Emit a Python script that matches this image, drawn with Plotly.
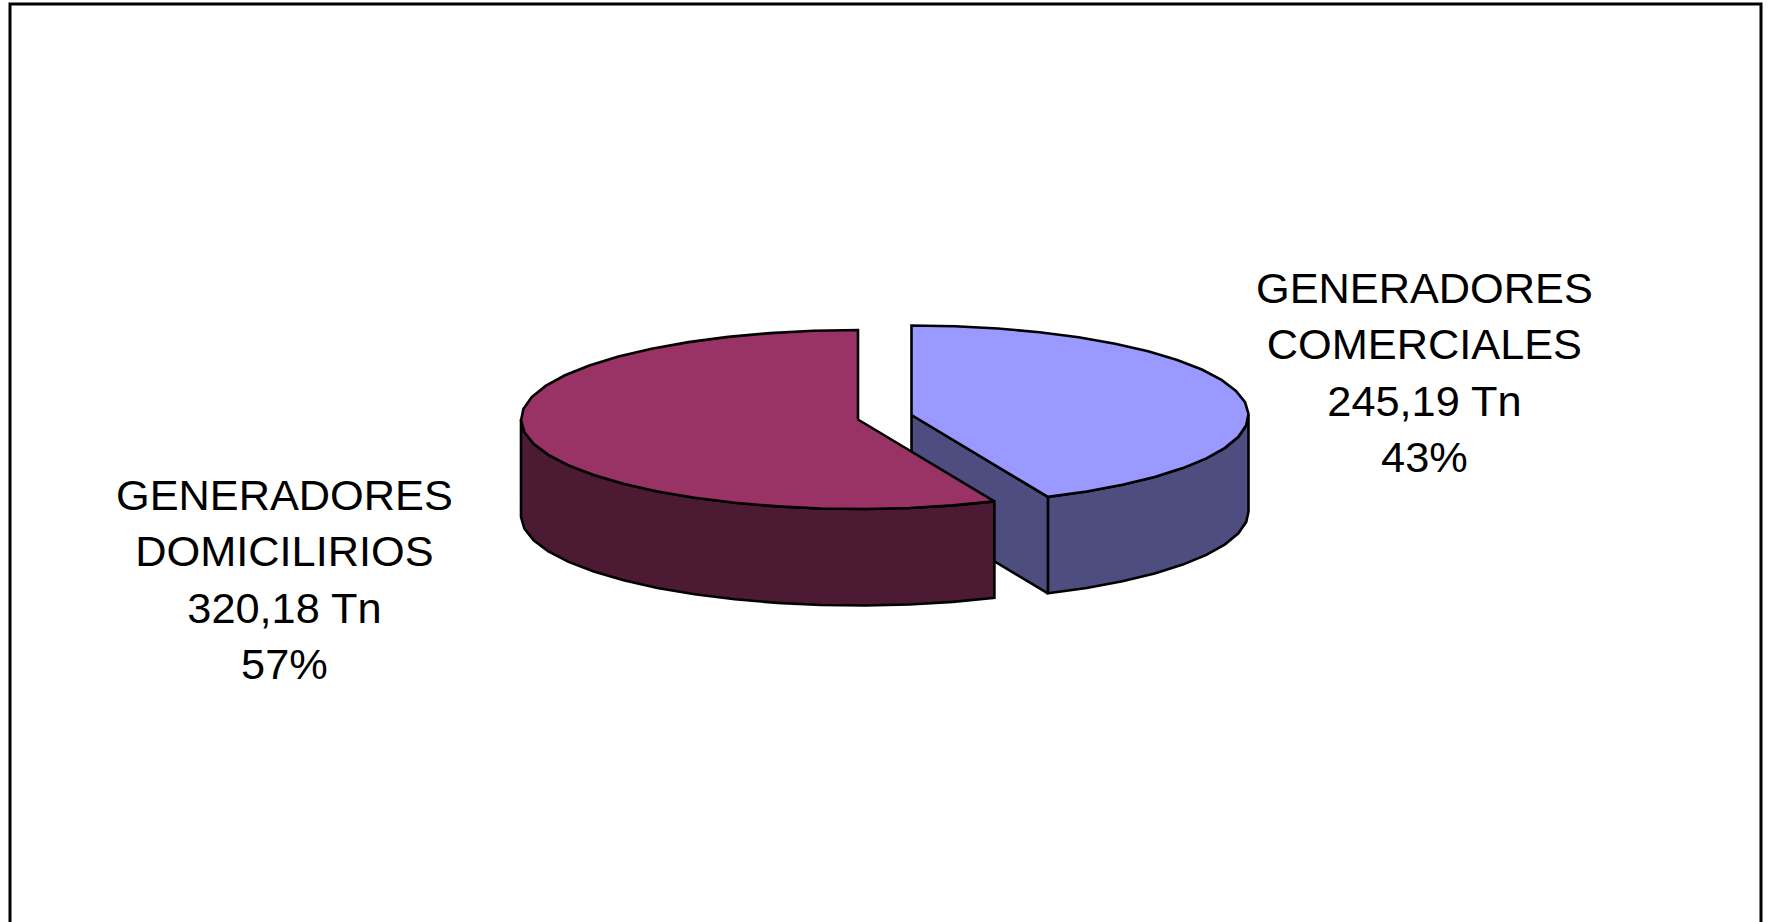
import numpy as np
import plotly.graph_objects as go

# Data
line_1 = ["GENERADORES", "GENERADORES"]
line_2 = ["COMERCIALES", "DOMICILIRIOS"]
tons = [245.19, 320.18]
tons_text = ["245,19 Tn", "320,18 Tn"]
top_colors = ["#9999FF", "#993366"]
side_colors = ["#4D4D80", "#4D1A33"]

# Layout of the 3D pie (pixel-like data space)
centers = [(911.5, 415.0), (858.0, 419.5)]
directions = [1, -1]  # clockwise / counter-clockwise from 12 o'clock
label_pos = [(1424, 372), (284, 579)]
RX, RY, DEPTH = 337.0, 89.5, 96.5
STEP = 7.5

total = sum(tons)
fig = go.Figure()


def add_poly(xs, ys, color):
    fig.add_trace(go.Scatter(
        x=xs, y=ys, mode="lines", fill="toself", fillcolor=color,
        line=dict(color="black", width=2.6), hoverinfo="skip", showlegend=False))


for value, (cx, cy), d, top, side in zip(tons, centers, directions, top_colors, side_colors):
    sweep = 360 * value / total
    n = max(2, int(round(sweep / STEP)) + 1)
    deg = np.linspace(0, sweep, n)
    th = np.radians(deg)
    ax = cx + d * RX * np.sin(th)
    ay = cy - RY * np.cos(th)
    # outer wall: the part of the rim on the front half
    front = deg >= 90
    wx = np.r_[cx + d * RX, ax[front]]
    wy = np.r_[cy, ay[front]]
    add_poly(np.r_[wx, wx[::-1], wx[0]], np.r_[wy, wy[::-1] + DEPTH, wy[0]], side)
    # radial wall, visible only for the clockwise slice
    if d > 0:
        add_poly([cx, ax[-1], ax[-1], cx, cx],
                 [cy, ay[-1], ay[-1] + DEPTH, cy + DEPTH, cy], side)
    # top face
    add_poly(np.r_[cx, ax, cx], np.r_[cy, ay, cy], top)

annotations = []
for a, b, t, v, (lx, ly) in zip(line_1, line_2, tons_text, tons, label_pos):
    annotations.append(dict(
        x=lx, y=ly, xref="x", yref="y", showarrow=False, align="center",
        text=f"{a}<br>{b}<br>{t}<br>{round(100 * v / total)}%",
        font=dict(family="Liberation Sans, Arial, sans-serif", size=43.3, color="black")))

fig.update_layout(
    width=1769, height=922, margin=dict(l=0, r=0, t=0, b=0),
    paper_bgcolor="white", plot_bgcolor="white",
    xaxis=dict(range=[0, 1769], visible=False, fixedrange=True),
    yaxis=dict(range=[922, 0], visible=False, fixedrange=True),
    annotations=annotations,
    shapes=[dict(type="rect", xref="x", yref="y", x0=10, y0=4, x1=1761, y1=940,
                 line=dict(color="black", width=3), fillcolor="rgba(0,0,0,0)", layer="below")],
)
fig.write_html("out.html", config={"displayModeBar": False},
               post_script="document.body.style.margin='0';document.documentElement.style.overflow='hidden';")
